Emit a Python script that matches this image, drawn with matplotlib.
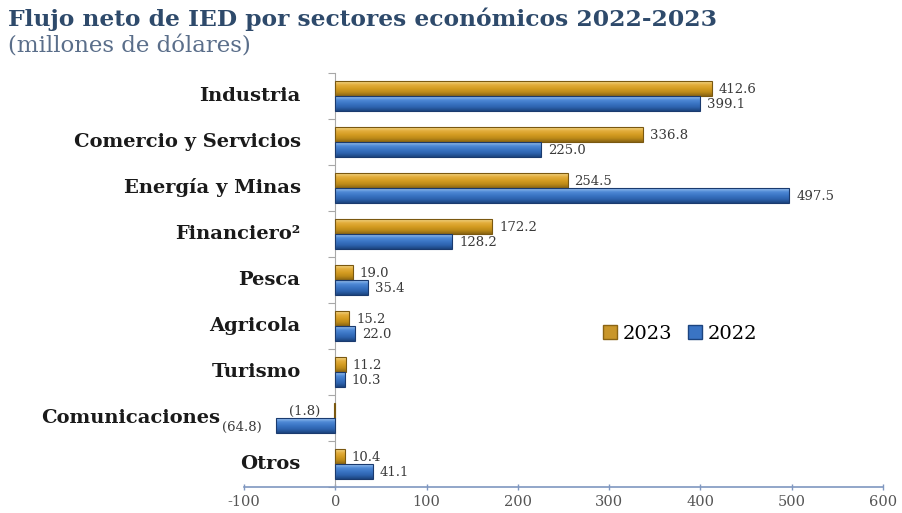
import numpy as np
import matplotlib
matplotlib.use("Agg")
import matplotlib.pyplot as plt
from matplotlib.colors import LinearSegmentedColormap
from matplotlib.patches import Patch

sectores = ["Industria", "Comercio y Servicios", "Energía y Minas", "Financiero²",
            "Pesca", "Agricola", "Turismo", "Comunicaciones", "Otros"]
valores_2023 = [412.6, 336.8, 254.5, 172.2, 19.0, 15.2, 11.2, -1.8, 10.4]
valores_2022 = [399.1, 225.0, 497.5, 128.2, 35.4, 22.0, 10.3, -64.8, 41.1]
ticks_x = [-100, 0, 100, 200, 300, 400, 500, 600]

FUENTE = "DejaVu Serif"
DPI = 100

cmap_oro = LinearSegmentedColormap.from_list(
    "oro", ["#f3d98a", "#e3ad3c", "#d59d22", "#bd8a18", "#8a6414"])
cmap_azul = LinearSegmentedColormap.from_list(
    "azul", ["#9cc2f0", "#4f8ad6", "#3a74c4", "#2d62ad", "#1c447f"])


def etiqueta(v):
    return f"({abs(v):.1f})" if v < 0 else f"{v:.1f}"


fig = plt.figure(figsize=(902 / DPI, 513 / DPI), dpi=DPI)
ax = fig.add_axes([0.2705, 0.0507, 0.7085, 0.807])

n = len(sectores)
y = np.arange(n)[::-1]
alto = 0.31
desp = 0.165

grad = np.linspace(0, 1, 64).reshape(-1, 1)
barras = []
for vals, cmap, borde, dy in [(valores_2023, cmap_oro, "#7a5810", desp),
                              (valores_2022, cmap_azul, "#1a3a6e", -desp)]:
    bs = ax.barh(y + dy, vals, height=alto, color="none", edgecolor=borde,
                 linewidth=0.8, zorder=3)
    for p in bs:
        x0, x1 = p.get_x(), p.get_x() + p.get_width()
        y0, y1 = p.get_y(), p.get_y() + p.get_height()
        im = ax.imshow(grad, cmap=cmap, aspect="auto", origin="upper",
                       extent=(x0, x1, y0, y1), zorder=2, interpolation="bilinear")
        im.set_clip_path(p)
    barras.append((bs, vals))

# etiquetas de valor
for bs, vals in barras:
    for p, v in zip(bs, vals):
        yc = p.get_y() + p.get_height() / 2
        if v < 0:
            ax.annotate(etiqueta(v), xy=(v, yc), xytext=(-10, -1), textcoords="offset points",
                        ha="right", va="center", fontsize=9.5, family=FUENTE,
                        color="#3a3a3a")
        else:
            ax.annotate(etiqueta(v), xy=(v, yc), xytext=(5, -1), textcoords="offset points",
                        ha="left", va="center", fontsize=9.5, family=FUENTE,
                        color="#3a3a3a")

# nombres de sector a la izquierda del eje
for yi, nombre, a, b in zip(y, sectores, valores_2023, valores_2022):
    dx = -83 if min(a, b) < -10 else -25
    ax.annotate(nombre, xy=(0, yi), xytext=(dx, 0), textcoords="offset points",
                ha="right", va="center", fontsize=14, fontweight="bold",
                family=FUENTE, color="#1a1a1a")

ax.set_xlim(-100, 600)
ax.set_ylim(-0.5, n - 0.5)
ax.set_xticks(ticks_x)
ax.set_xticklabels([str(t) for t in ticks_x], family=FUENTE, fontsize=10.5, color="#555555")
ax.tick_params(axis="x", direction="inout", length=4, width=1, color="#7f97c0", pad=4)

ax.spines["left"].set_position(("data", 0))
ax.spines["left"].set_color("#a8a8a8")
ax.spines["bottom"].set_color("#7f97c0")
ax.spines["bottom"].set_linewidth(1.2)
ax.spines["top"].set_visible(False)
ax.spines["right"].set_visible(False)
ax.set_yticks(np.arange(n + 1) - 0.5)
ax.set_yticklabels([])
ax.tick_params(axis="y", direction="out", length=5, color="#a8a8a8")

leyenda = [Patch(facecolor="#c9962a", edgecolor="#8a6414", label="2023"),
           Patch(facecolor="#3a74c4", edgecolor="#1c447f", label="2022")]
ax.legend(handles=leyenda, loc="center left", bbox_to_anchor=(0.535, 0.37), ncol=2,
          frameon=False, handlelength=0.7, handleheight=0.7, handletextpad=0.3,
          columnspacing=0.8, prop={"family": FUENTE, "size": 14})

fig.text(0.009, 0.962, "Flujo neto de IED por sectores económicos 2022-2023",
         family=FUENTE, fontweight="bold", fontsize=16.8, color="#2e4a6b", va="center")
fig.text(0.009, 0.91, "(millones de dólares)", family=FUENTE, fontsize=16.5,
         color="#5a6e8a", va="center")

fig.savefig("out.png", dpi=DPI)
